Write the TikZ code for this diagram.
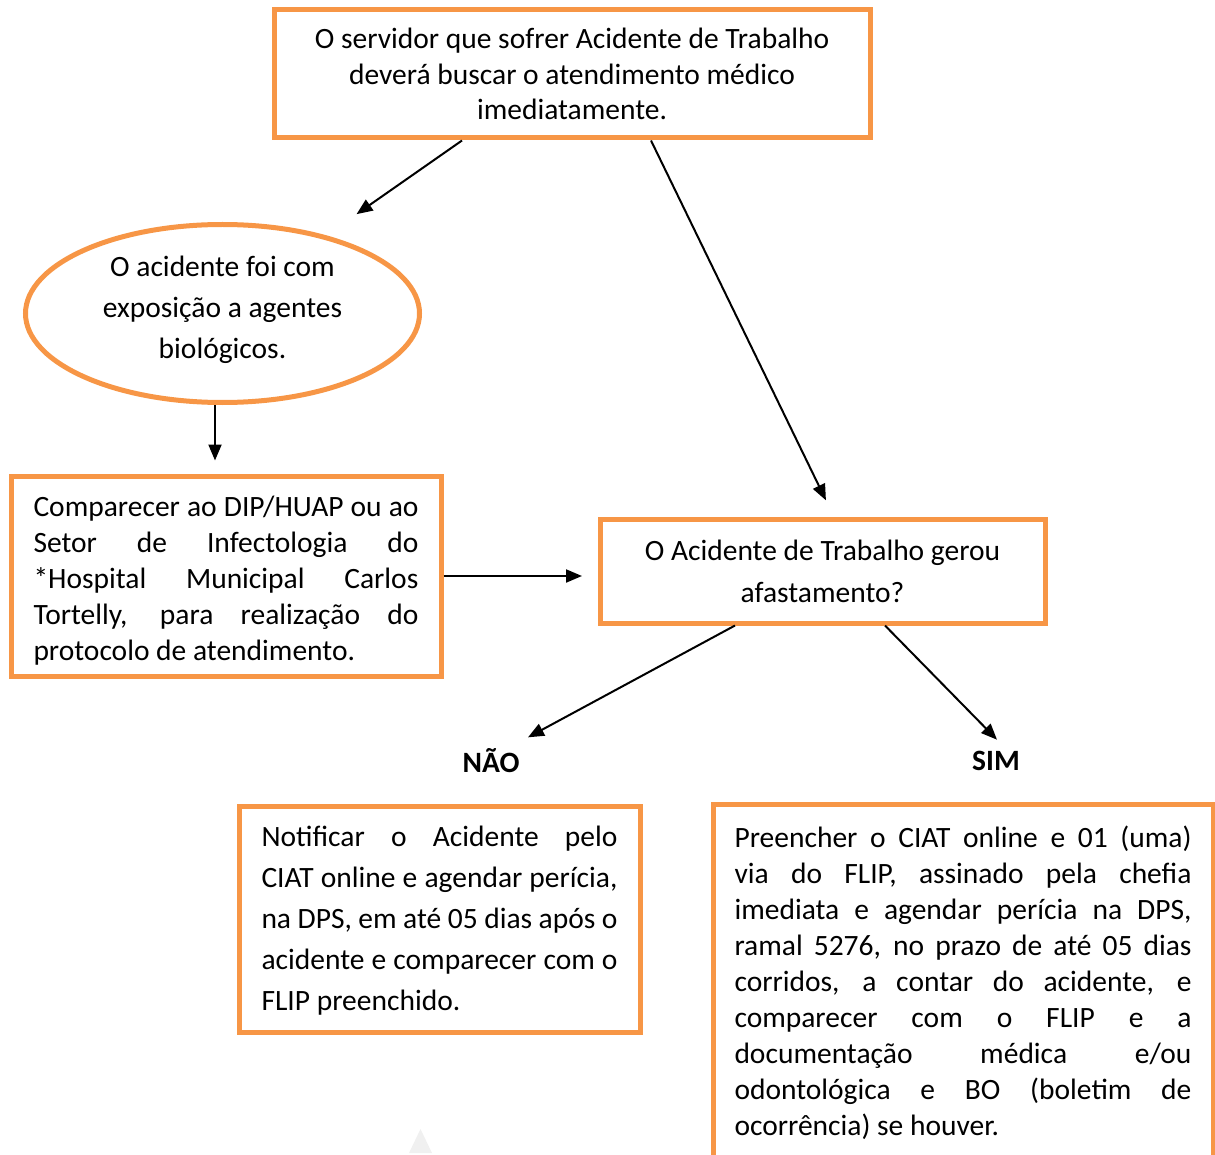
\documentclass[tikz,border=0pt]{standalone}
\usepackage{fontspec}
\setmainfont{Carlito}
\usepackage{xcolor}
\usetikzlibrary{arrows.meta,shapes.geometric,calc}
\definecolor{laranja}{HTML}{F79646}
\tikzset{>={Triangle[length=16pt,width=13pt]}}
\tikzset{
	caixa/.style={draw=laranja, line width=5pt, inner ysep=0pt},
	seta/.style={->, line width=2pt},
	rotulo/.style={font=\bfseries\fontsize{29.5}{36}\selectfont}
}

\begin{document}
\begin{tikzpicture}[x=1pt,y=-1pt]
		\useasboundingbox (0,0) rectangle (1215,1155);
		\node[caixa, minimum width=596pt, minimum height=128pt, align=center, font=\fontsize{29.5}{35.5}\selectfont] (topo) at (572,74) {O servidor que sofrer Acidente de Trabalho\\deverá buscar o atendimento médico\\imediatamente.};
		\node[caixa, ellipse, minimum width=394pt, minimum height=178pt, inner sep=0pt, text depth=13pt, align=center, font=\fontsize{29.5}{41}\selectfont] (bio) at (222.5,313.5) {O acidente foi com\\exposição a agentes\\biológicos.};
		\node[caixa, text width=385pt, inner xsep=22.5pt, minimum height=200pt, text depth=140pt, align=justify, font=\fontsize{29.5}{36}\selectfont] (comp) at (226,576) {Comparecer ao DIP/HUAP ou ao\linebreak Setor de Infectologia do\linebreak *Hospital Municipal Carlos\linebreak Tortelly, para realização do\linebreak protocolo de atendimento.};
		\node[caixa, minimum width=445pt, minimum height=104pt, align=center, font=\fontsize{29.5}{42}\selectfont] (afast) at (822.5,571) {O Acidente de Trabalho gerou\\afastamento?};
		\node[rotulo] (nao) at (491,761) {NÃO};
		\node[rotulo] (sim) at (996,761) {SIM};
		\node[caixa, text width=356pt, inner xsep=22.5pt, minimum height=226pt, text depth=164.5pt, align=justify, font=\fontsize{29.5}{41}\selectfont] (notif) at (439.5,919) {Notificar o Acidente pelo\linebreak CIAT online e agendar perícia,\linebreak na DPS, em até 05 dias após o\linebreak acidente e comparecer com o\linebreak FLIP preenchido.};
		\node[caixa, text width=457pt, inner xsep=21.5pt, minimum height=358pt, align=justify, font=\fontsize{29.5}{36}\selectfont] (preen) at (963,983) {Preencher o CIAT online e 01 (uma)\linebreak via do FLIP, assinado pela chefia\linebreak imediata e agendar perícia na DPS,\linebreak ramal 5276, no prazo de até 05 dias\linebreak corridos, a contar do acidente, e\linebreak comparecer com o FLIP e a\linebreak documentação médica e/ou\linebreak odontológica e BO (boletim de\linebreak ocorrência) se houver.};
		\draw[seta, shorten >=37pt] ([xshift=-110pt]topo.south) -- (bio.37);
		\draw[seta, shorten >=18pt] ([xshift=79pt]topo.south) -- ([xshift=11.3pt]afast.north);
		\draw[seta, shorten >=13pt] ([xshift=-7.5pt]bio.south) -- ([xshift=-11pt]comp.north);
		\draw[seta, shorten >=15.5pt] (comp.east) -- (comp.east -| afast.west);
		\draw[seta] ([xshift=-87.5pt]afast.south) -- ([xshift=5pt,yshift=8pt]nao.north east);
		\draw[seta] ([xshift=62.5pt]afast.south) -- ([xshift=1pt,yshift=8pt]sim.north);
		\fill[black!6] (409,1153) -- (420.5,1129) -- (432,1153) -- cycle;
	\end{tikzpicture}
\end{document}
